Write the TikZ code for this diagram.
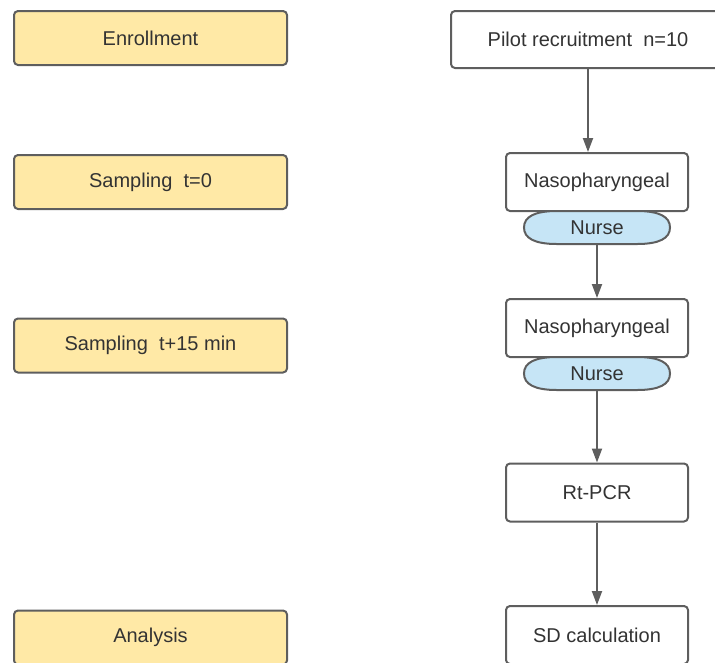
\documentclass[tikz,border=0pt]{standalone}
\usepackage{fontspec}
\setmainfont{Liberation Sans}
\usetikzlibrary{arrows.meta}

\definecolor{edgegray}{HTML}{5E5E5E}
\definecolor{stageyellow}{HTML}{FFE9A6}
\definecolor{nurseblue}{HTML}{C6E5F6}
\definecolor{textgray}{HTML}{333333}

\tikzset{
  stagebox/.style={draw=edgegray, fill=stageyellow, line width=1.5pt, rounded corners=3pt,
    minimum width=204.75pt, minimum height=40.5pt, inner sep=0pt, text=textgray},
  stepbox/.style={draw=edgegray, fill=white, line width=1.5pt, rounded corners=3pt,
    minimum width=136.5pt, minimum height=43.5pt, inner sep=0pt, text=textgray},
  nurse/.style={minimum width=109.5pt, minimum height=24.75pt, inner sep=0pt, text=textgray},
  nurseline/.style={draw=edgegray, fill=nurseblue, line width=1.5pt},
  flow/.style={->, draw=edgegray, line width=1.5pt}
}

% capsule outline of a nurse label, centred on a coordinate
\newcommand{\nursecapsule}[1]{%
  \draw[nurseline, shift={(#1)}] (-73,0) .. controls (-73,-11) and (-62,-16.5) .. (-40,-16.5)
    -- (40,-16.5) .. controls (62,-16.5) and (73,-11) .. (73,0)
    .. controls (73,11) and (62,16.5) .. (40,16.5)
    -- (-40,16.5) .. controls (-62,16.5) and (-73,11) .. (-73,0) -- cycle;}

\begin{document}
\begin{tikzpicture}[x=0.75pt, y=-0.75pt, >={Triangle[length=10.5pt,width=7.5pt]},
  font=\fontsize{15}{17}\selectfont]
\useasboundingbox (0,0) rectangle (715,662);
\clip (0,0) rectangle (715,662);
% Stages
\node[stagebox] (enroll) at (150.5,38) {Enrollment};
\node[stagebox] (samp0) at (150.5,182) {Sampling\ \ t=0};
\node[stagebox] (samp15) at (150.5,345.5) {Sampling\ \ t+15 min};
\node[stagebox] (analysis) at (150.5,637.5) {Analysis};
% Steps
\node[stepbox, minimum width=205.5pt, minimum height=42.75pt] (pilot) at (588,39.5) {Pilot recruitment\ \ n=10};
\node[stepbox] (naso1) at (597,182) {Nasopharyngeal};
\coordinate (n1) at (597,227.5);
\nursecapsule{n1}
\node[nurse] (nurse1) at (n1) {Nurse};
\node[stepbox] (naso2) at (597,328) {Nasopharyngeal};
\coordinate (n2) at (597,373.5);
\nursecapsule{n2}
\node[nurse] (nurse2) at (n2) {Nurse};
\node[stepbox] (pcr) at (597,492.5) {Rt-PCR};
\node[stepbox] (sd) at (597,635) {SD calculation};
% Arrows
\draw[flow] (pilot.south) -- (pilot.south |- naso1.north);
\draw[flow] (nurse1.south) -- (naso2.north);
\draw[flow] (nurse2.south) -- (pcr.north);
\draw[flow] (pcr.south) -- (sd.north);
\end{tikzpicture}
\end{document}
